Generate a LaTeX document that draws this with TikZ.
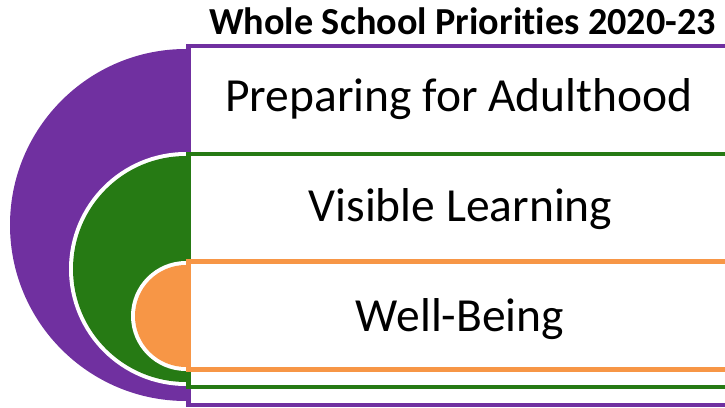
\documentclass[tikz,border=0pt]{standalone}
\usepackage{fontspec}
\setmainfont{Carlito}[Ligatures={NoCommon,NoDiscretionary,NoRare}]
\definecolor{cpurple}{HTML}{7030A0}
\definecolor{cgreen}{HTML}{267A14}
\definecolor{corange}{HTML}{F79646}
\begin{document}
\begin{tikzpicture}[x=1pt,y=1pt,
  band/.style={line width=4.6pt, fill=white},
  label/.style={anchor=base, inner sep=0pt, font=\fontsize{47.5}{52}\selectfont},
  ttl/.style={anchor=base, inner sep=0pt, font=\bfseries\fontsize{38.2}{42}\selectfont}]
\useasboundingbox (0,0) rectangle (725,407);
\clip (0,0) rectangle (725,407);
% purple
\fill[cpurple] (186,358) arc[start angle=90,end angle=270,radius=176] -- cycle;
\draw[band, draw=cpurple] (188.5,361) rectangle (740,2);
% green
\fill[white] (186,255) arc[start angle=90,end angle=270,radius=117] -- cycle;
\fill[cgreen] (186,251) arc[start angle=90,end angle=270,radius=113] -- cycle;
\draw[band, draw=cgreen] (188.5,253) rectangle (740,20);
% orange
\fill[white] (186,146) arc[start angle=90,end angle=270,radius=55] -- cycle;
\fill[corange] (186,142) arc[start angle=90,end angle=270,radius=51] -- cycle;
\draw[band, draw=corange] (188.5,145.5) rectangle (740,37.5);
% texts
\node[ttl] (title) at (462.5,372) {Whole School Priorities 2020-23};
\node[label] (t1) at (459,295.3) {Preparing for Adulthood};
\node[label] (t2) at (460.5,185.3) {Visible Learning};
\node[label] (t3) at (460,75.3) {Well-Being};
\end{tikzpicture}
\end{document}
